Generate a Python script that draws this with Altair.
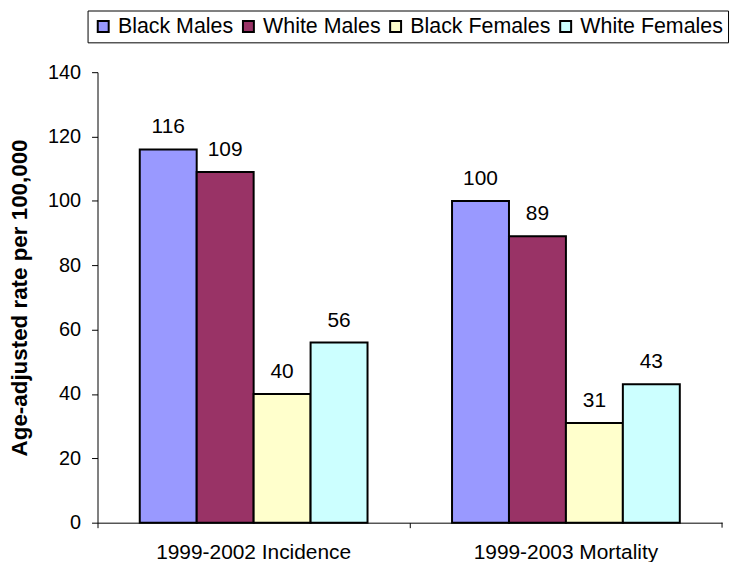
import altair as alt
import pandas as pd

categories = ["1999-2002 Incidence", "1999-2003 Mortality"]
series = ["Black Males", "White Males", "Black Females", "White Females"]
incidence = [116, 109, 40, 56]
mortality = [100, 89, 31, 43]
colors = ["#9999FF", "#993366", "#FFFFCC", "#CCFFFF"]
y_ticks = [0, 20, 40, 60, 80, 100, 120, 140]

rows = []
for cat, vals in zip(categories, [incidence, mortality]):
    for s, v in zip(series, vals):
        rows.append({"cat": cat, "series": s, "value": v})
df = pd.DataFrame(rows)

FONT = "Liberation Sans"
W, H = 628, 453

x_axis = alt.Axis(
    title=None,
    bandPosition=0,
    labelFontSize=21,
    labelColor="black",
    labelFont=FONT,
    labelPadding=14,
    labelLimit=400,
    tickSize=5,
    tickColor="black",
    domainColor="black",
    labelAngle=0,
)
x_enc = alt.X(
    "cat:N",
    sort=categories,
    scale=alt.Scale(paddingInner=0, paddingOuter=0),
    axis=x_axis,
)
xoff_enc = alt.XOffset(
    "series:N", sort=series, scale=alt.Scale(paddingInner=0, paddingOuter=0.742)
)
y_enc = alt.Y(
    "value:Q",
    scale=alt.Scale(domain=[0, 140], nice=False),
    axis=alt.Axis(
        values=y_ticks,
        title="Age-adjusted rate per 100,000",
        titleFontSize=22.5,
        titleFontWeight="bold",
        titleFont=FONT,
        titleColor="black",
        titleX=-71,
        titleY=H / 2,
        titleBaseline="alphabetic",
        titleAlign="center",
        titleAngle=270,
        labelFontSize=20,
        labelFont=FONT,
        labelColor="black",
        labelPadding=11,
        tickSize=6,
        tickColor="black",
        domainColor="black",
        grid=False,
    ),
)

base = alt.Chart(df).encode(x=x_enc, xOffset=xoff_enc, y=y_enc)

bars = base.mark_bar(stroke="black", strokeWidth=2).encode(
    color=alt.Color(
        "series:N",
        sort=series,
        scale=alt.Scale(domain=series, range=colors),
        legend=alt.Legend(
            title=None,
            orient="none",
            legendX=-10,
            legendY=-62,
            direction="horizontal",
            padding=5,
            strokeColor="black",
            fillColor="white",
            labelFontSize=21.5,
            labelFont=FONT,
            labelColor="black",
            symbolType="square",
            symbolSize=121,
            symbolStrokeColor="black",
            symbolStrokeWidth=2,
            symbolOpacity=1,
            labelOffset=4,
            columnPadding=4,
            labelLimit=300,
        ),
    )
)

labels = base.mark_text(
    dy=-16, baseline="alphabetic", fontSize=21, color="black", font=FONT
).encode(text="value:Q")

end_tick = (
    alt.Chart(pd.DataFrame({"cat": [categories[-1]]}))
    .mark_rule(color="black")
    .encode(
        x=alt.X("cat:N", sort=categories, bandPosition=1, axis=x_axis),
        y=alt.value(H),
        y2=alt.value(H + 5),
    )
)

chart = (
    alt.layer(bars, labels, end_tick)
    .properties(
        width=W,
        height=H,
        autosize=alt.AutoSizeParams(type="none"),
        padding={"left": 90, "top": 63, "right": 10, "bottom": 38},
        background="white",
    )
    .configure(font=FONT)
    .configure_view(stroke=None)
)

chart.save("out.html", embed_options={"renderer": "svg", "actions": False})
